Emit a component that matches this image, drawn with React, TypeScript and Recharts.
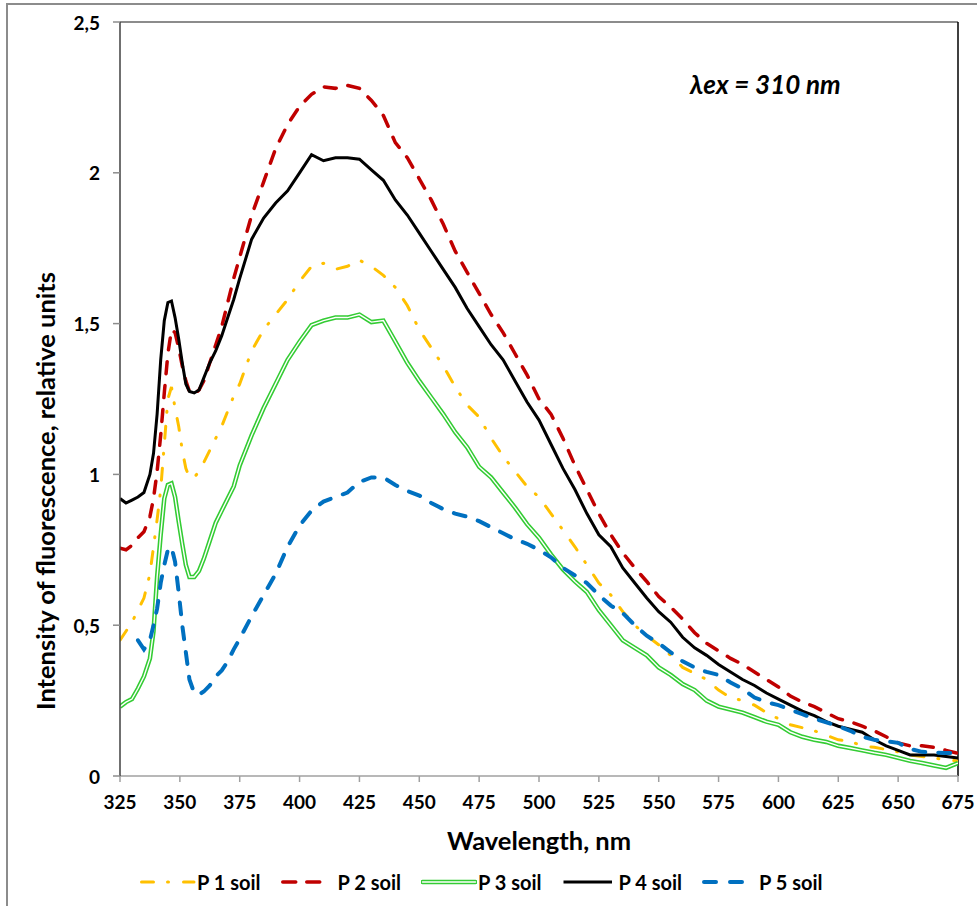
import { LineChart, Line, XAxis, YAxis, ReferenceLine, Label } from "recharts";

/* ------------------------------------------------------------------ */
/* Data */
/* ------------------------------------------------------------------ */

const wavelengths = [
  325, 327.5, 330, 332.5, 335, 337.5, 339, 340.5, 342, 343.5, 345, 346.5, 348,
  349.5, 351, 352.5, 354, 356, 358, 360, 362.5, 365, 367.5, 370, 372.5, 375,
  380, 385, 390, 395, 400, 405, 410, 415, 420, 425, 430, 435, 440, 445, 450,
  455, 460, 465, 470, 475, 480, 485, 490, 495, 500, 505, 510, 515, 520, 525,
  530, 535, 540, 545, 550, 555, 560, 565, 570, 575, 580, 585, 590, 595, 600,
  605, 610, 615, 620, 625, 630, 635, 640, 645, 650, 655, 660, 665, 670, 675,
];

const p1Soil = [
  0.45, 0.48, 0.51, 0.55, 0.59, 0.67, 0.76, 0.85, 0.95, 1.1, 1.25, 1.29, 1.22,
  1.16, 1.08, 1.02, 0.99, 0.99, 1.01, 1.04, 1.08, 1.12, 1.16, 1.21, 1.26, 1.3,
  1.41, 1.48, 1.53, 1.58, 1.64, 1.69, 1.7, 1.68, 1.69, 1.71, 1.69, 1.66, 1.62,
  1.56, 1.48, 1.42, 1.36, 1.29, 1.23, 1.19, 1.12, 1.06, 1.01, 0.96, 0.925,
  0.87, 0.815, 0.76, 0.7, 0.64, 0.6, 0.545, 0.5, 0.465, 0.435, 0.4, 0.36, 0.34,
  0.32, 0.285, 0.26, 0.25, 0.235, 0.21, 0.19, 0.17, 0.16, 0.15, 0.135, 0.12,
  0.115, 0.1, 0.095, 0.088, 0.08, 0.07, 0.065, 0.06, 0.053, 0.05,
];

const p2Soil = [
  0.755, 0.75, 0.765, 0.79, 0.81, 0.86, 0.92, 1.01, 1.13, 1.27, 1.4, 1.48,
  1.47, 1.42, 1.36, 1.31, 1.275, 1.265, 1.28, 1.31, 1.37, 1.43, 1.49, 1.57,
  1.65, 1.72, 1.86, 1.97, 2.08, 2.16, 2.22, 2.26, 2.285, 2.28, 2.29, 2.28,
  2.24, 2.19, 2.1, 2.05, 1.98, 1.91, 1.83, 1.74, 1.67, 1.6, 1.53, 1.47, 1.4,
  1.33, 1.25, 1.2, 1.12, 1.03, 0.95, 0.87, 0.8, 0.74, 0.69, 0.645, 0.595, 0.56,
  0.52, 0.475, 0.44, 0.415, 0.39, 0.37, 0.345, 0.32, 0.295, 0.265, 0.245, 0.23,
  0.21, 0.19, 0.18, 0.165, 0.15, 0.13, 0.11, 0.1, 0.1, 0.095, 0.085, 0.075,
];

const p3Soil = [
  0.23, 0.245, 0.255, 0.29, 0.33, 0.39, 0.48, 0.66, 0.8, 0.92, 0.965, 0.97,
  0.925, 0.845, 0.77, 0.7, 0.66, 0.66, 0.68, 0.72, 0.78, 0.84, 0.88, 0.92,
  0.96, 1.03, 1.13, 1.22, 1.3, 1.38, 1.44, 1.495, 1.51, 1.52, 1.52, 1.53,
  1.505, 1.51, 1.44, 1.37, 1.31, 1.255, 1.2, 1.14, 1.09, 1.025, 0.99, 0.94,
  0.89, 0.835, 0.79, 0.735, 0.685, 0.645, 0.61, 0.55, 0.5, 0.45, 0.425, 0.4,
  0.36, 0.335, 0.305, 0.285, 0.25, 0.23, 0.22, 0.21, 0.195, 0.18, 0.17, 0.145,
  0.13, 0.12, 0.113, 0.1, 0.093, 0.085, 0.077, 0.07, 0.06, 0.05, 0.043, 0.035,
  0.027, 0.043,
];

const p4Soil = [
  0.92, 0.905, 0.915, 0.925, 0.94, 1.0, 1.07, 1.2, 1.38, 1.51, 1.57, 1.575,
  1.52, 1.45, 1.37, 1.3, 1.275, 1.27, 1.28, 1.32, 1.37, 1.41, 1.46, 1.52, 1.58,
  1.65, 1.78, 1.85, 1.9, 1.94, 2.0, 2.06, 2.04, 2.05, 2.05, 2.045, 2.01, 1.975,
  1.91, 1.86, 1.8, 1.74, 1.68, 1.62, 1.55, 1.49, 1.43, 1.38, 1.31, 1.24, 1.18,
  1.1, 1.02, 0.95, 0.87, 0.8, 0.76, 0.69, 0.64, 0.59, 0.545, 0.51, 0.46, 0.425,
  0.4, 0.37, 0.345, 0.32, 0.3, 0.275, 0.255, 0.235, 0.215, 0.2, 0.18, 0.165,
  0.155, 0.145, 0.12, 0.1, 0.085, 0.07, 0.07, 0.07, 0.065, 0.06,
];

const p5Soil = [
  null, null, null, 0.45, 0.42, 0.45, 0.5, 0.555, 0.64, 0.7, 0.75, 0.76, 0.71,
  0.61, 0.5, 0.41, 0.32, 0.275, 0.27, 0.28, 0.3, 0.33, 0.35, 0.38, 0.42,
  0.455, 0.53, 0.6, 0.67, 0.76, 0.83, 0.88, 0.91, 0.925, 0.94, 0.975, 0.99,
  0.99, 0.965, 0.945, 0.93, 0.905, 0.885, 0.87, 0.86, 0.845, 0.825, 0.805,
  0.785, 0.77, 0.75, 0.725, 0.69, 0.665, 0.64, 0.6, 0.565, 0.54, 0.5, 0.465,
  0.44, 0.41, 0.38, 0.36, 0.345, 0.335, 0.31, 0.29, 0.26, 0.245, 0.235, 0.22,
  0.205, 0.19, 0.178, 0.165, 0.15, 0.13, 0.12, 0.115, 0.11, 0.09, 0.08, 0.078,
  0.076, 0.076,
];

const xTicks = [325, 350, 375, 400, 425, 450, 475, 500, 525, 550, 575, 600, 625, 650, 675];
const yTicks = [0, 0.5, 1, 1.5, 2, 2.5];
const seriesNames = ["P 1 soil", "P 2 soil", "P 3 soil", "P 4 soil", "P 5 soil"];

const data = wavelengths.map((nm, i) => ({
  nm,
  p1: p1Soil[i],
  p2: p2Soil[i],
  p3: p3Soil[i],
  p4: p4Soil[i],
  p5: p5Soil[i],
}));

/* ------------------------------------------------------------------ */
/* Styles */
/* ------------------------------------------------------------------ */

const FONT = "Lato, 'Open Sans', sans-serif";
const GOLD = "#FFC000";
const RED = "#C00000";
const GREEN = "#33CC33";
const BLUE = "#0070C0";
const TICK_FONT = 19;

const XTick = (props: any) => {
  const { x, y, payload } = props;
  return (
    <text
      x={x}
      y={y + 3}
      textAnchor="middle"
      dominantBaseline="hanging"
      fontSize={TICK_FONT}
      fontWeight={700}
      fontFamily={FONT}
      fill="#000"
    >
      {payload.value}
    </text>
  );
};

const YTick = (props: any) => {
  const { x, y, payload } = props;
  return (
    <text
      x={x - 4}
      y={y}
      textAnchor="end"
      dominantBaseline="central"
      fontSize={TICK_FONT}
      fontWeight={700}
      fontFamily={FONT}
      fill="#000"
    >
      {String(payload.value).replace(".", ",")}
    </text>
  );
};

const YTitle = () => (
  <text
    x={45}
    y={491}
    transform="rotate(-90 45 491)"
    textAnchor="middle"
    dominantBaseline="central"
    style={{ fontSize: 25.5, fontWeight: 700, fontFamily: FONT, fill: "#000" }}
  >
    Intensity of fluorescence, relative units
  </text>
);

/* legend sample lines, one per series */
const LegendSample = ({ idx }: { idx: number }) => {
  const common = { y1: 8, y2: 8, strokeLinecap: "round" as const };
  return (
    <svg width={56} height={16} style={{ display: "block" }}>
      {idx === 0 && (
        <line {...common} x1={1.5} x2={54} stroke={GOLD} strokeWidth={3} strokeDasharray="12 14 1 15" />
      )}
      {idx === 1 && (
        <line {...common} x1={1.75} x2={41} stroke={RED} strokeWidth={3.5} strokeDasharray="13 11" />
      )}
      {idx === 2 && (
        <>
          <line {...common} x1={1.5} x2={54.5} stroke={GREEN} strokeWidth={4.5} />
          <line {...common} x1={1.5} x2={54.5} stroke="#fff" strokeWidth={1.4} />
        </>
      )}
      {idx === 3 && <line {...common} x1={1.5} x2={50} stroke="#000" strokeWidth={3} strokeLinecap="butt" />}
      {idx === 4 && (
        <line {...common} x1={2} x2={40} stroke={BLUE} strokeWidth={4} strokeDasharray="12 14" />
      )}
    </svg>
  );
};

/* ------------------------------------------------------------------ */
/* Chart */
/* ------------------------------------------------------------------ */

export default function App() {
  return (
    <div
      style={{
        position: "absolute",
        left: 0,
        top: 0,
        width: 977,
        height: 906,
        background: "#fff",
        overflow: "hidden",
      }}
    >
      {/* outer chart-area frame */}
      <div
        style={{
          position: "absolute",
          left: 6,
          top: 3,
          width: 1000,
          height: 1000,
          borderLeft: "2px solid #8c8c8c",
          borderTop: "2px solid #8c8c8c",
        }}
      />

      <LineChart
        width={977}
        height={906}
        data={data}
        margin={{ top: 22, right: 19, left: 60, bottom: 90 }}
        style={{ position: "absolute", left: 0, top: 0 }}
      >
        <XAxis
          dataKey="nm"
          type="number"
          domain={[325, 675]}
          ticks={xTicks}
          allowDataOverflow
          height={40}
          tick={XTick}
          tickSize={6}
          tickMargin={9}
          axisLine={{ stroke: "#a0a0a0", strokeWidth: 1.5 }}
          tickLine={{ stroke: "#a0a0a0", strokeWidth: 1.5 }}
        >
          <Label
            value="Wavelength, nm"
            position="bottom"
            offset={16}
            style={{ fontSize: 25.5, fontWeight: 700, fontFamily: FONT, fill: "#000" }}
          />
        </XAxis>
        <YAxis
          type="number"
          domain={[0, 2.5]}
          ticks={yTicks}
          allowDataOverflow
          width={60}
          tick={YTick}
          tickSize={7}
          tickMargin={9}
          axisLine={{ stroke: "#404040", strokeWidth: 1.5 }}
          tickLine={{ stroke: "#8c8c8c", strokeWidth: 1.5 }}
        >
          <Label content={YTitle} />
        </YAxis>

        <ReferenceLine y={2.5} stroke="#8c8c8c" strokeWidth={2} />
        <ReferenceLine x={675} stroke="#000" strokeWidth={1.5} />

        <Line
          dataKey="p1"
          name={seriesNames[0]}
          type="linear"
          stroke={GOLD}
          strokeWidth={3}
          strokeDasharray="12 14 1 15"
          strokeLinecap="round"
          dot={false}
          isAnimationActive={false}
        />
        <Line
          dataKey="p2"
          name={seriesNames[1]}
          type="linear"
          stroke={RED}
          strokeWidth={3.5}
          strokeDasharray="12 12"
          strokeLinecap="round"
          dot={false}
          isAnimationActive={false}
        />
        <Line
          dataKey="p3"
          name={seriesNames[2]}
          type="linear"
          stroke={GREEN}
          strokeWidth={4.5}
          dot={false}
          isAnimationActive={false}
        />
        <Line
          dataKey="p3"
          name="p3-inner"
          legendType="none"
          type="linear"
          stroke="#fff"
          strokeWidth={1.4}
          dot={false}
          isAnimationActive={false}
        />
        <Line
          dataKey="p4"
          name={seriesNames[3]}
          type="linear"
          stroke="#000"
          strokeWidth={3}
          dot={false}
          isAnimationActive={false}
        />
        <Line
          dataKey="p5"
          name={seriesNames[4]}
          type="linear"
          stroke={BLUE}
          strokeWidth={4}
          strokeDasharray="12 13"
          strokeLinecap="round"
          dot={false}
          isAnimationActive={false}
        />
      </LineChart>

      {/* excitation wavelength note */}
      <div
        style={{
          position: "absolute",
          left: 690,
          top: 68,
          fontFamily: FONT,
          fontSize: 26,
          fontWeight: 700,
          fontStyle: "italic",
          color: "#000",
          whiteSpace: "nowrap",
        }}
      >
        λex = 310 nm
      </div>

      {/* legend */}
      <div
        style={{
          position: "absolute",
          left: 140,
          top: 871,
          display: "flex",
          fontFamily: FONT,
          fontSize: 20,
          fontWeight: 700,
          color: "#000",
        }}
      >
        {seriesNames.map((name, i) => (
          <div key={name} style={{ width: 140.5, display: "flex", alignItems: "center", height: 22 }}>
            <LegendSample idx={i} />
            <span style={{ marginLeft: 1, whiteSpace: "nowrap" }}>{name}</span>
          </div>
        ))}
      </div>
    </div>
  );
}
